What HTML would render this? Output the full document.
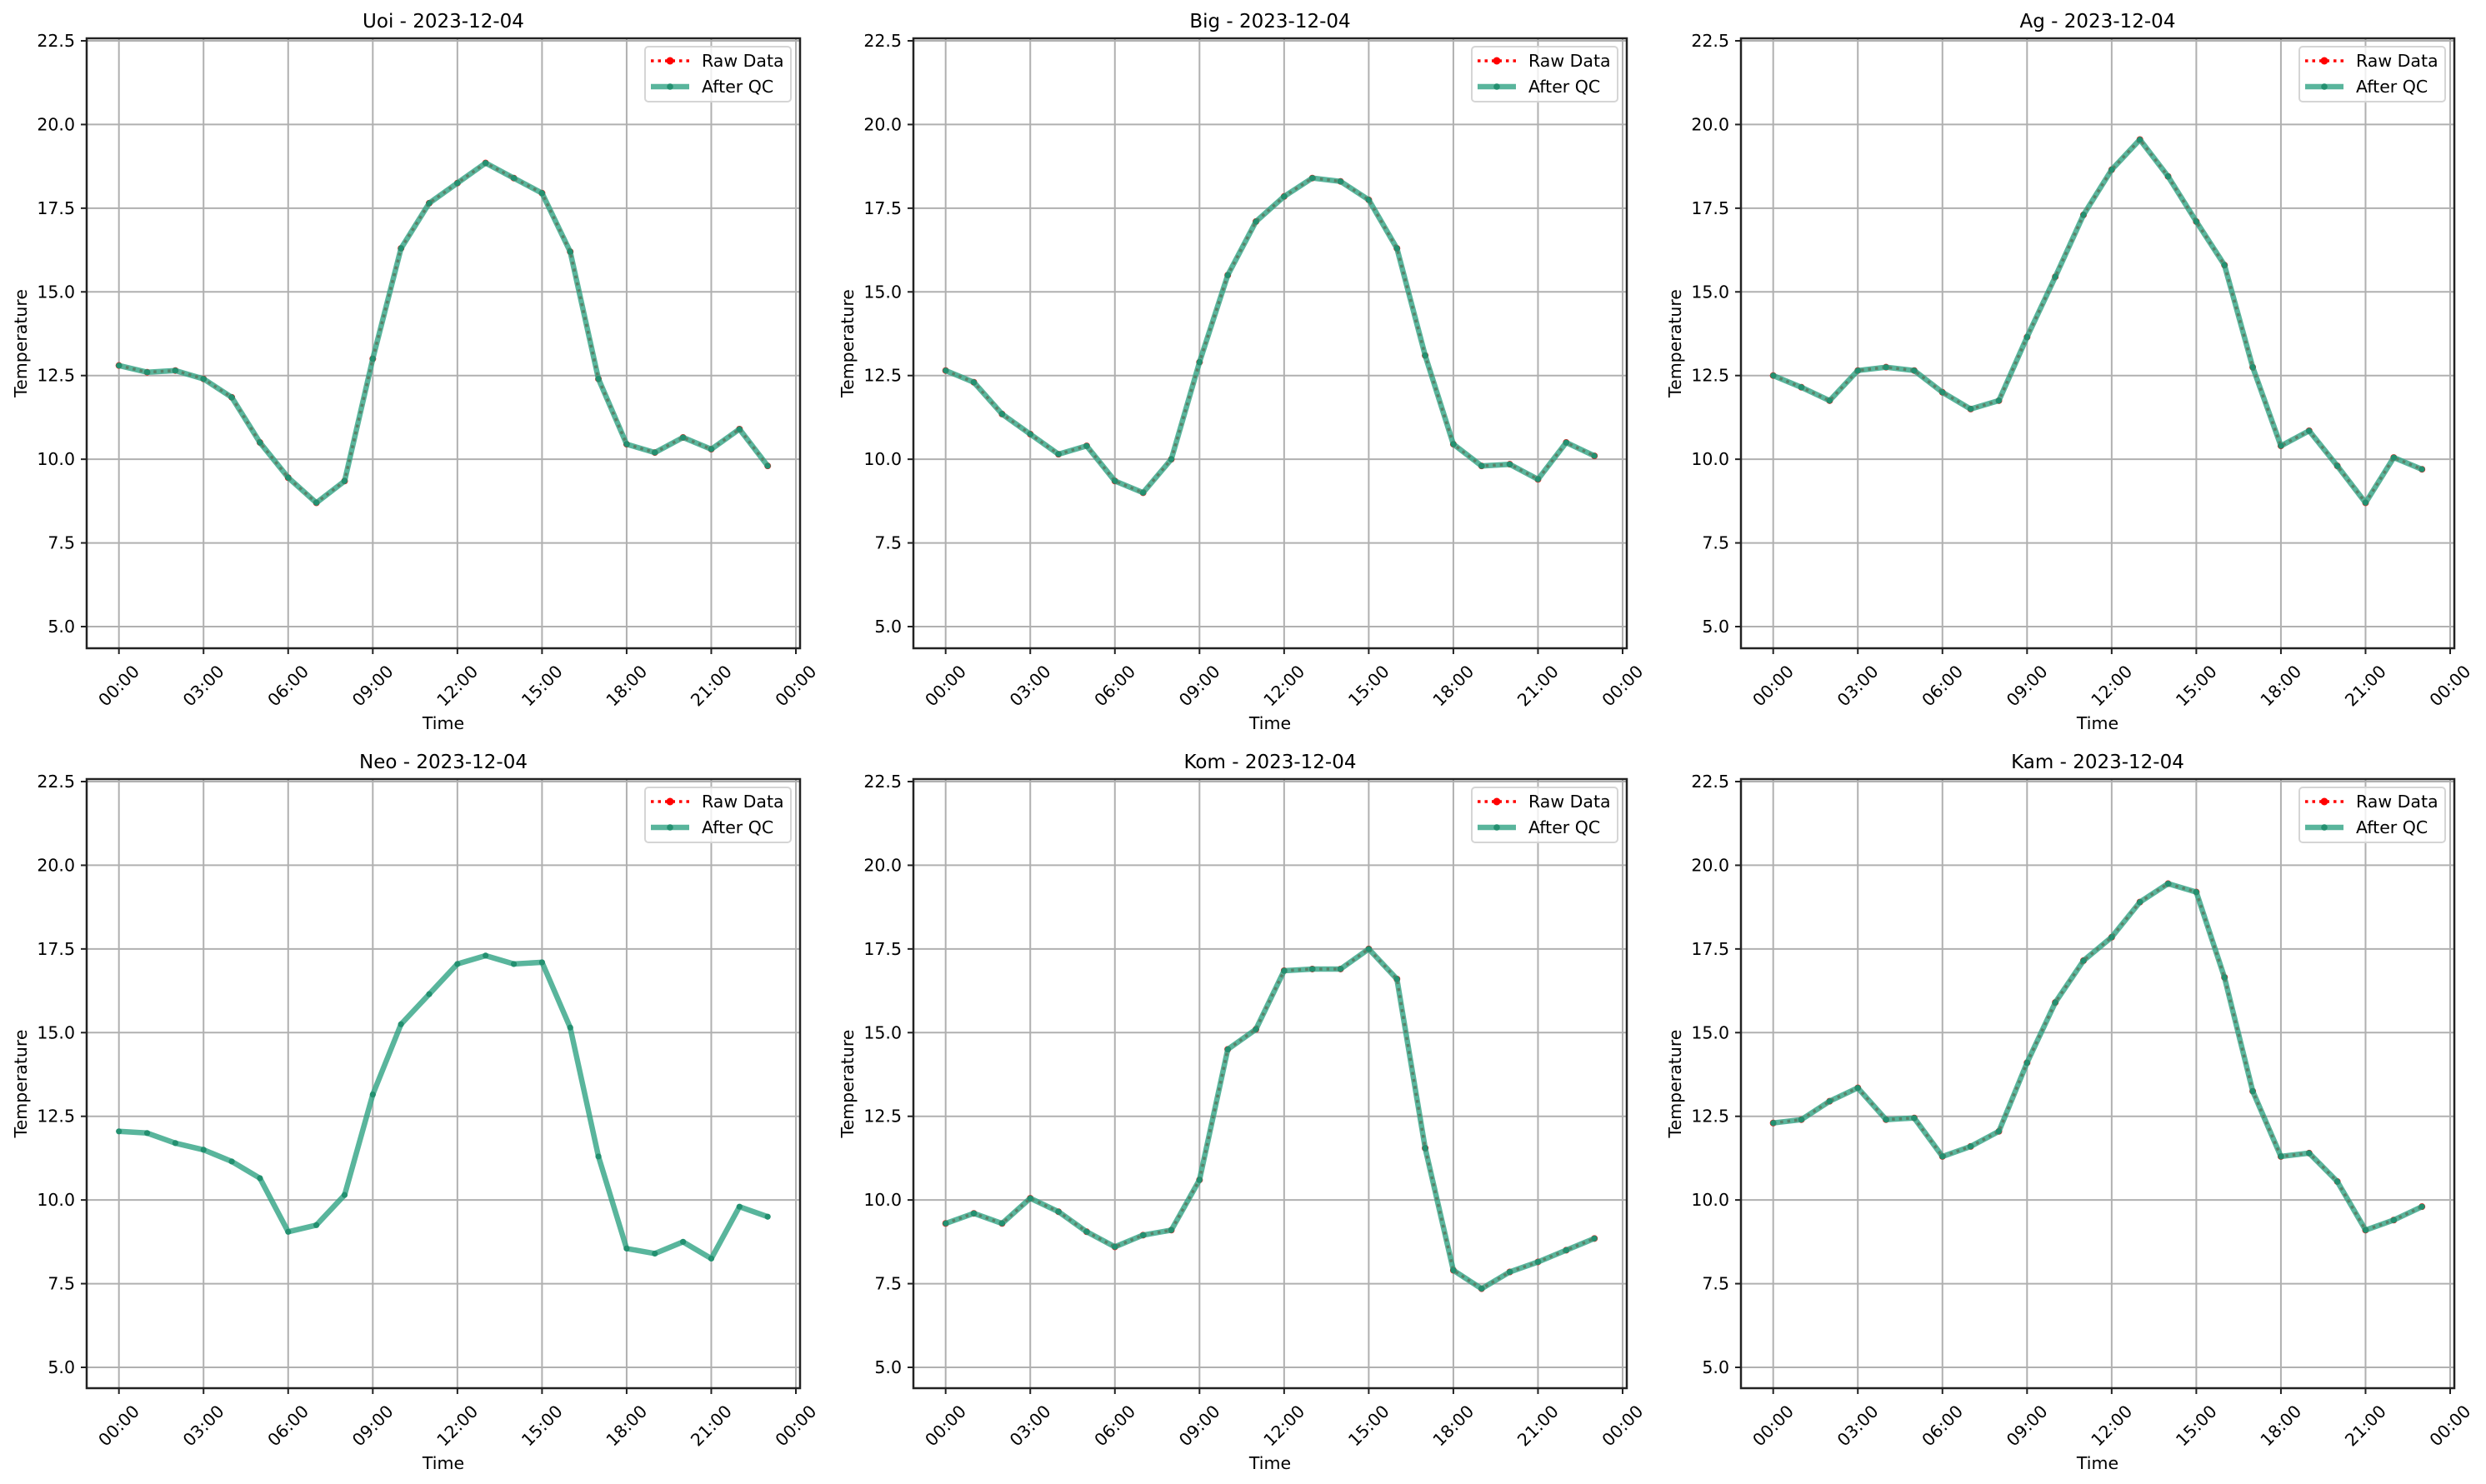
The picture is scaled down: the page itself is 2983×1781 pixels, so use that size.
<!DOCTYPE html>
<html><head><meta charset="utf-8"><style>
html,body{margin:0;padding:0;background:#fff;}
svg{display:block;font-family:"DejaVu Sans","Liberation Sans",sans-serif;}
</style></head><body>
<svg id="fig" width="2983" height="1781" viewBox="0 0 2983 1781" xmlns="http://www.w3.org/2000/svg"></svg>
<script>
const stations = ["Uoi","Big","Ag","Neo","Kom","Kam"];
const dateLabel = "2023-12-04";
const hours = [0,1,2,3,4,5,6,7,8,9,10,11,12,13,14,15,16,17,18,19,20,21,22,23];
const uoiTemp = [12.8,12.6,12.65,12.4,11.85,10.5,9.45,8.7,9.35,13.0,16.3,17.65,18.25,18.85,18.4,17.95,16.2,12.4,10.45,10.2,10.65,10.3,10.9,9.8];
const bigTemp = [12.65,12.3,11.35,10.75,10.15,10.4,9.35,9.0,10.0,12.9,15.5,17.1,17.85,18.4,18.3,17.75,16.3,13.1,10.45,9.8,9.85,9.4,10.5,10.1];
const agTemp = [12.5,12.15,11.75,12.65,12.75,12.65,12.0,11.5,11.75,13.65,15.45,17.3,18.65,19.55,18.45,17.1,15.8,12.75,10.4,10.85,9.8,8.7,10.05,9.7];
const neoTemp = [12.05,12.0,11.7,11.5,11.15,10.65,9.05,9.25,10.15,13.15,15.25,16.15,17.05,17.3,17.05,17.1,15.15,11.3,8.55,8.4,8.75,8.25,9.8,9.5];
const komTemp = [9.3,9.6,9.3,10.05,9.65,9.05,8.6,8.95,9.1,10.6,14.5,15.1,16.85,16.9,16.9,17.5,16.6,11.55,7.9,7.35,7.85,8.15,8.5,8.85];
const kamTemp = [12.3,12.4,12.95,13.35,12.4,12.45,11.3,11.6,12.05,14.1,15.9,17.15,17.85,18.9,19.45,19.2,16.65,13.25,11.3,11.4,10.55,9.1,9.4,9.8];
const showRaw = [true,true,true,false,true,true];
const yTicks = [5.0,7.5,10.0,12.5,15.0,17.5,20.0,22.5];
const xTickHours = [0,3,6,9,12,15,18,21,24];
const xTickLabels = ["00:00","03:00","06:00","09:00","12:00","15:00","18:00","21:00","00:00"];
const series = [uoiTemp,bigTemp,agTemp,neoTemp,komTemp,kamTemp];

const NS="http://www.w3.org/2000/svg";
const svg=document.getElementById('fig');
function mk(tag,attrs,parent,text){const e=document.createElementNS(NS,tag);for(const k in attrs)e.setAttribute(k,attrs[k]);if(text!==undefined)e.textContent=text;(parent||svg).appendChild(e);return e;}

const colLeft=[104,1096,2089], W=856;
const rows=[{top:46,bottom:778,y225:49,y5:752},{top:935,bottom:1666,y225:938,y5:1641}];

for(let p=0;p<6;p++){
  const L=colLeft[p%3], R=L+W, rw=rows[Math.floor(p/3)];
  const ys=v=>rw.y5+(v-5)*(rw.y225-rw.y5)/17.5;
  const x0=L+38.7, step=(W-38.7-5)/24;
  const xs=h=>x0+h*step;
  const g=mk('g',{});
  
  
  yTicks.forEach(v=>{const l=mk('line',{x1:L,x2:R,y1:ys(v),y2:ys(v),stroke:'#b0b0b0','stroke-width':2},g);
    });
  xTickHours.forEach(h=>{const l=mk('line',{x1:xs(h),x2:xs(h),y1:rw.top,y2:rw.bottom,stroke:'#b0b0b0','stroke-width':2},g);
    });
  yTicks.forEach(v=>{mk('line',{x1:L-7,x2:L,y1:ys(v),y2:ys(v),stroke:'#222','stroke-width':2},g);
    const t=mk('text',{x:L-14,y:ys(v)+7,'text-anchor':'end','font-size':20.5,fill:'#000'},g,v.toFixed(1));
    });
  xTickHours.forEach((h,i)=>{mk('line',{x1:xs(h),x2:xs(h),y1:rw.bottom,y2:rw.bottom+7,stroke:'#222','stroke-width':2},g);
    const cx=xs(h), cy=rw.bottom+45;
    const t=mk('text',{x:cx,y:cy+7,'text-anchor':'middle','font-size':20.5,fill:'#000',transform:`rotate(-45 ${cx} ${cy})`},g,xTickLabels[i]);
    });
  const d=series[p];
  const pts=hours.map((h,i)=>xs(h).toFixed(1)+','+ys(d[i]).toFixed(1)).join(' ');
  if(showRaw[p]){
    const rl=mk('polyline',{points:pts,fill:'none',stroke:'#ff0000','stroke-width':3.5,'stroke-dasharray':'3.5 5','stroke-linejoin':'round'},g);
    
    hours.forEach((h,i)=>{const c=mk('circle',{cx:xs(h),cy:ys(d[i]),r:4,fill:'#ff0000'},g);
      });
  }
  const ql=mk('polyline',{points:pts,fill:'none',stroke:'#30a283','stroke-opacity':0.8,'stroke-width':6.5,'stroke-linejoin':'round'},g);
  
  hours.forEach((h,i)=>{const c=mk('circle',{cx:xs(h),cy:ys(d[i]),r:3.6,fill:'#239070'},g);
    });
  const fr=mk('rect',{x:L,y:rw.top,width:W,height:rw.bottom-rw.top,fill:'none',stroke:'#222','stroke-width':2.5},g);
  
  const tt=mk('text',{x:L+W/2,y:rw.top-13,'text-anchor':'middle','font-size':23,fill:'#000'},g,stations[p]+' - '+dateLabel);
  
  const xl=mk('text',{x:L+W/2,y:rw.bottom+97,'text-anchor':'middle','font-size':20.5,fill:'#000'},g,'Time');
  
  const ycx=L-79, ycy=(rw.top+rw.bottom)/2;
  const yl=mk('text',{x:ycx,y:ycy+7,'text-anchor':'middle','font-size':20.5,fill:'#000',transform:`rotate(-90 ${ycx} ${ycy})`},g,'Temperature');
  
  const bx=R-186, by=rw.top+10;
  const lg=mk('g',{},g);
  
  mk('rect',{x:bx,y:by,width:175,height:66,rx:4,fill:'#fff','fill-opacity':0.8,stroke:'#d5d5d5','stroke-width':2},lg);
  const e1=mk('g',{},lg);
  mk('line',{x1:bx+7,x2:bx+53,y1:by+17,y2:by+17,stroke:'#ff0000','stroke-width':3.5,'stroke-dasharray':'3.5 5'},e1);
  mk('circle',{cx:bx+30,cy:by+17,r:4.5,fill:'#ff0000'},e1);
  mk('text',{x:bx+68,y:by+24,'font-size':20.5,fill:'#000'},e1,'Raw Data');
  const e2=mk('g',{},lg);
  mk('line',{x1:bx+7,x2:bx+53,y1:by+48,y2:by+48,stroke:'#30a283','stroke-opacity':0.8,'stroke-width':6.5},e2);
  mk('circle',{cx:bx+30,cy:by+48,r:3.8,fill:'#239070'},e2);
  mk('text',{x:bx+68,y:by+55,'font-size':20.5,fill:'#000'},e2,'After QC');
}
</script>
</body></html>
